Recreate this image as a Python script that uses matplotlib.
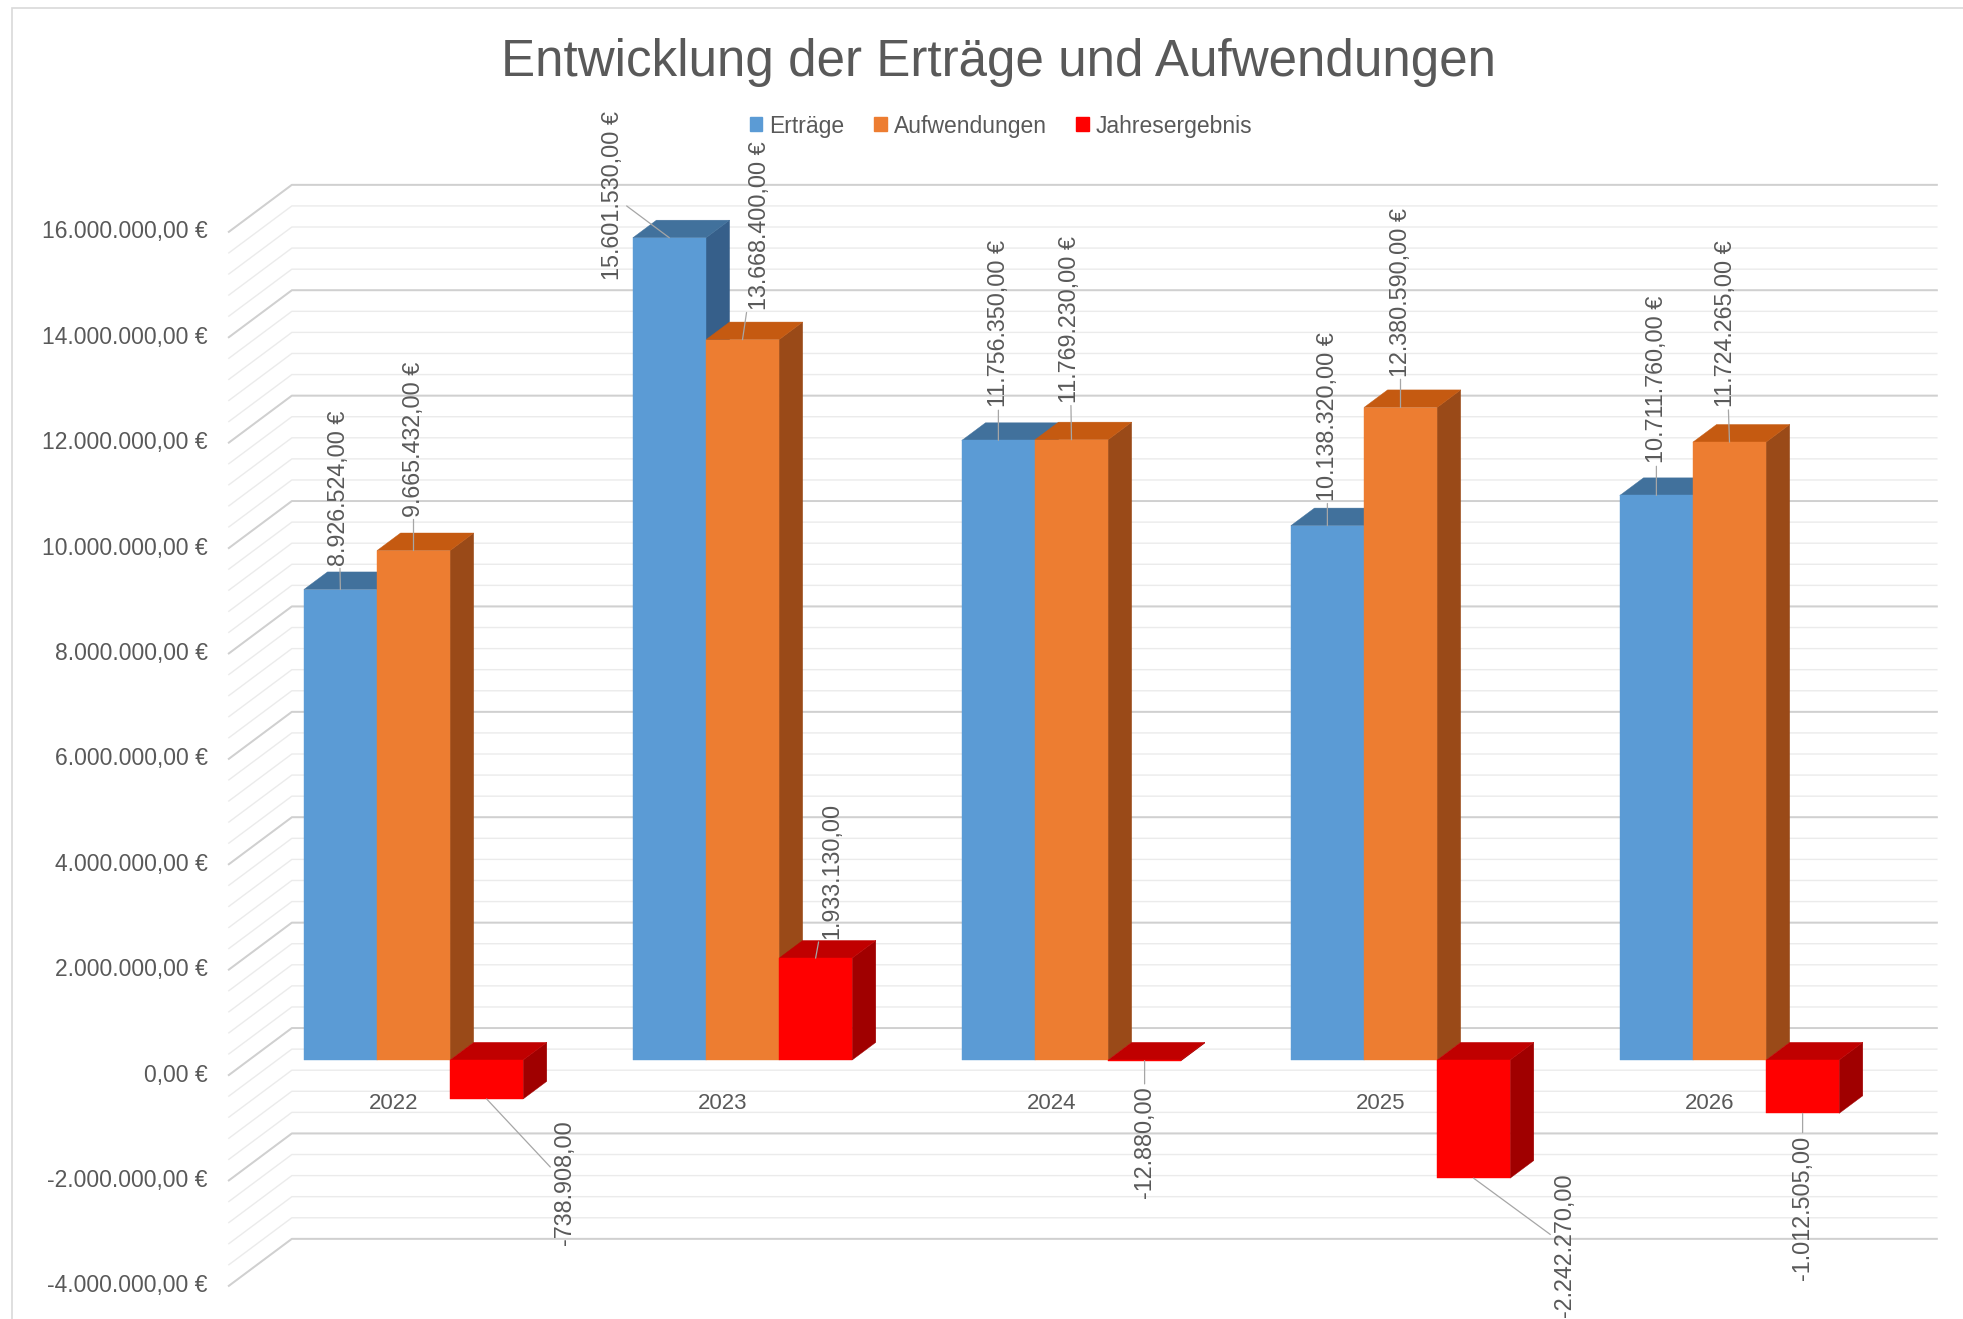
import numpy as np
import matplotlib.pyplot as plt
from matplotlib.patches import Polygon, Patch, Rectangle

plt.rcParams['font.family'] = ['Liberation Sans', 'DejaVu Sans']

# Daten
jahre = ['2022', '2023', '2024', '2025', '2026']
ertraege = [8926524, 15601530, 11756350, 10138320, 10711760]
aufwendungen = [9665432, 13668400, 11769230, 12380590, 11724265]
ergebnis = [-738908, 1933130, -12880, -2242270, -1012505]

serien = ['Erträge', 'Aufwendungen', 'Jahresergebnis']
werte = [ertraege, aufwendungen, ergebnis]
mit_euro = [True, True, False]

y_major = np.arange(-4e6, 16e6 + 1, 2e6)
y_minor = np.arange(-4e6, 16e6 + 1, 4e5)

# Farben (Vorderseite, Oberseite, Seite)
farbe_front = ['#5B9BD5', '#ED7D31', '#FF0000']
farbe_top = ['#41719C', '#C55A11', '#C00000']
farbe_side = ['#365F8A', '#9A4A18', '#A00000']
textfarbe = '#595959'

# Beschriftungs-Versatz in Pixel (dx, dy) je Serie und Jahr
versatz = [
    [(-2, 24), (-57, -42), (0, 33), (0, 25), (0, 32)],
    [(0, 34), (17, 30), (-2, 37), (0, 31), (-4, 35)],
    [(78, -21), (16, 19), (0, -26), (91, 5), (0, -22)],
]

def fmt(v, euro=True):
    s = f"{v:,.2f}".replace(',', '#').replace('.', ',').replace('#', '.')
    return s + ' €' if euro else s

W, H = 1963, 1319
fig = plt.figure(figsize=(W / 100, H / 100), dpi=100)
fig.patch.set_facecolor('white')

# Vorderebene der Säulen
x0_px, x1_px = 249, 1894
py_null, px_pro_mio = 1060, 52.7
py_lo = py_null + 4 * px_pro_mio
py_hi = py_null - 16 * px_pro_mio
ax = fig.add_axes([x0_px / W, 1 - py_lo / H, (x1_px - x0_px) / W, (py_lo - py_hi) / H])
ax.set_xlim(-0.5, 4.5)
ax.set_ylim(-4e6, 16e6)
ax.axis('off')

# 3D-Tiefe (schräge Projektion) in Datenkoordinaten
Dx = 63 / 329
Dy = 47 / px_pro_mio * 1e6
f_vorn, f_hinten = -0.32, 0.68
bar_tiefe = 0.375
bdx, bdy = bar_tiefe * Dx, bar_tiefe * Dy

xl, xr = -0.5, 4.5

# Gitterlinien (Seitenwand + Rückwand)
for v in y_minor:
    ax.plot([xl + f_vorn * Dx, xl + f_hinten * Dx, xr + f_hinten * Dx],
            [v + f_vorn * Dy, v + f_hinten * Dy, v + f_hinten * Dy],
            color='#EBEBEB', lw=1.0, zorder=1, clip_on=False)
for v in y_major:
    ax.plot([xl + f_vorn * Dx, xl + f_hinten * Dx, xr + f_hinten * Dx],
            [v + f_vorn * Dy, v + f_hinten * Dy, v + f_hinten * Dy],
            color='#D0D0D0', lw=1.4, zorder=1.1, clip_on=False)

# Y-Achse Beschriftung
for v in y_major:
    ax.annotate(fmt(v), xy=(xl + f_vorn * Dx, v + f_vorn * Dy), xytext=(-21, 0),
                textcoords='offset pixels', ha='right', va='center',
                fontsize=16.5, color=textfarbe, annotation_clip=False)

# Kategorien
for i, j in enumerate(jahre):
    ax.annotate(j, xy=(i + f_vorn * Dx, f_vorn * Dy), xytext=(0, -28),
                textcoords='offset pixels', ha='center', va='center',
                fontsize=16, color=textfarbe, annotation_clip=False)

# Säulen
w = 1 / 4.5
x = np.arange(len(jahre))
for s in range(3):
    links = x + (s - 1.5) * w
    ax.bar(links, werte[s], width=w, align='edge', color=farbe_front[s],
           edgecolor=farbe_front[s], lw=0.3, zorder=4)
    for i in range(len(jahre)):
        v = werte[s][i]
        lo, hi = min(v, 0), max(v, 0)
        x_l = links[i]
        top = Polygon([(x_l, hi), (x_l + w, hi), (x_l + w + bdx, hi + bdy), (x_l + bdx, hi + bdy)],
                      closed=True, facecolor=farbe_top[s], edgecolor=farbe_top[s], lw=0.3, zorder=3)
        side = Polygon([(x_l + w, lo), (x_l + w + bdx, lo + bdy), (x_l + w + bdx, hi + bdy), (x_l + w, hi)],
                       closed=True, facecolor=farbe_side[s], edgecolor=farbe_side[s], lw=0.3, zorder=2)
        ax.add_patch(top)
        ax.add_patch(side)

        dx, dy = versatz[s][i]
        ax.annotate(fmt(v, mit_euro[s]), xy=(x_l + w / 2, v), xytext=(dx, dy),
                    textcoords='offset pixels', rotation=90, ha='center',
                    va='bottom' if v >= 0 else 'top', fontsize=16.8, color=textfarbe,
                    annotation_clip=False, zorder=6,
                    arrowprops=dict(arrowstyle='-', color='#A6A6A6', lw=0.9,
                                    shrinkA=0, shrinkB=0))

# Titel
fig.text(998 / W, 1 - 76 / H, 'Entwicklung der Erträge und Aufwendungen',
         ha='center', va='baseline', fontsize=36.8, color=textfarbe)

# Legende
handles = [Patch(facecolor=c, edgecolor=c) for c in farbe_front]
fig.legend(handles, serien, loc='center', bbox_to_anchor=(1001 / W, 1 - 126 / H),
           ncol=3, frameon=False, fontsize=16.5, handlelength=0.55, handleheight=0.55,
           handletextpad=0.3, columnspacing=1.3, labelcolor=textfarbe)

# Rahmen
fig.add_artist(Rectangle((12 / W, -0.01), 1.02, 1.01 - 8 / H, transform=fig.transFigure,
                         fill=False, edgecolor='#D9D9D9', lw=1.2))

fig.savefig('out.png', dpi=100, facecolor='white')
